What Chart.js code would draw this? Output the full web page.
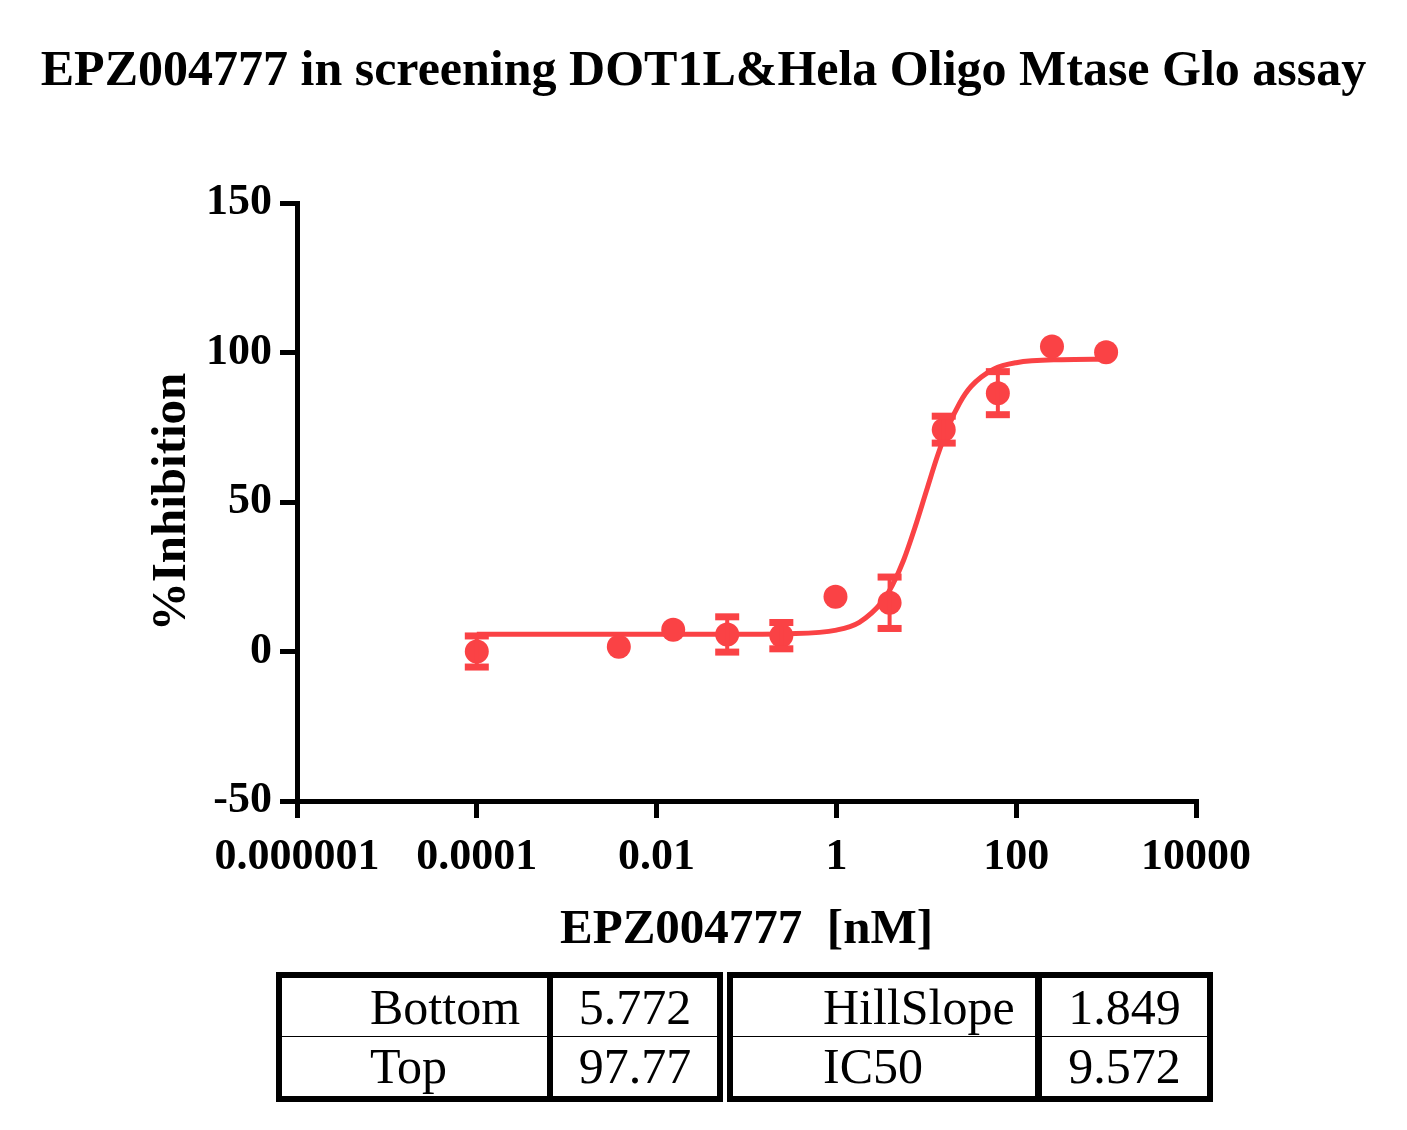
<!DOCTYPE html>
<html><head><meta charset="utf-8">
<script src="https://cdn.jsdelivr.net/npm/chart.js@4/dist/chart.umd.min.js"></script>
<style>
html,body{margin:0;padding:0;background:#fff;}
#wrap{position:relative;width:1407px;height:1130px;overflow:hidden;}
#c{position:absolute;left:0;top:0;}
.tb{position:absolute;border:6px solid #000;box-sizing:border-box;top:972px;height:130px;}
.cell{position:absolute;font-family:"Liberation Serif","Times New Roman",serif;font-size:50px;color:#000;white-space:nowrap;line-height:58px;height:58px;}
.vd{position:absolute;top:0;height:118px;background:#000;}
.hd{position:absolute;left:0;top:58px;height:1px;background:#000;}
</style></head>
<body>
<div id="wrap">
<canvas id="c" width="1407" height="1130"></canvas>
<div class="tb" style="left:276px;width:447px;">
  <div class="vd" style="left:265px;width:6px;"></div>
  <div class="hd" style="width:435px;"></div>
  <div class="cell" style="left:0;top:0;width:265px;padding-left:88px;box-sizing:border-box;">Bottom</div>
  <div class="cell" style="left:271px;top:0;width:164px;text-align:center;">5.772</div>
  <div class="cell" style="left:0;top:59px;width:265px;padding-left:88px;box-sizing:border-box;">Top</div>
  <div class="cell" style="left:271px;top:59px;width:164px;text-align:center;">97.77</div>
</div>
<div class="tb" style="left:727px;width:486px;">
  <div class="vd" style="left:302px;width:7px;"></div>
  <div class="hd" style="width:474px;"></div>
  <div class="cell" style="left:0;top:0;width:302px;padding-left:90px;box-sizing:border-box;">HillSlope</div>
  <div class="cell" style="left:309px;top:0;width:165px;text-align:center;">1.849</div>
  <div class="cell" style="left:0;top:59px;width:302px;padding-left:90px;box-sizing:border-box;">IC50</div>
  <div class="cell" style="left:309px;top:59px;width:165px;text-align:center;">9.572</div>
</div>
</div>
<script>
// ---- data ----
const concentration = [0.0001, 0.0038, 0.0153, 0.061, 0.244, 0.977, 3.906, 15.63, 62.5, 250, 1000];
const inhibition    = [0, 1.6, 7.3, 5.7, 5.3, 18.3, 16.3, 74.2, 86.4, 102.0, 100.1];
const inhibitionErr = [5.2, 0, 0, 5.9, 4.4, 0, 8.6, 4.5, 7.2, 0, 0];
const curveX = [0.0001, 0.001, 0.01, 0.1, 0.3, 1, 1.8, 3.2, 4.2, 5.6, 7.5, 10, 13.3, 17.8, 23.7, 31.6, 56, 100, 316, 1000];
const curveY = [5.77, 5.77, 5.77, 5.79, 5.93, 7.16, 9.77, 16.5, 22.2, 30.6, 41.6, 53.6, 65.4, 75.6, 83.3, 88.7, 94.4, 96.6, 97.6, 97.75];
const xTickValues = [0.000001, 0.0001, 0.01, 1, 100, 10000];
const xTickLabels = ['0.000001', '0.0001', '0.01', '1', '100', '10000'];
const yTickValues = [-50, 0, 50, 100, 150];
const yTickLabels = ['-50', '0', '50', '100', '150'];

const RED = '#FA4245';
const SERIF = '"Liberation Serif","Times New Roman",serif';

const errorBars = {
  id: 'errorBars',
  afterDatasetsDraw(chart) {
    const {ctx, scales: {x, y}} = chart;
    ctx.save();
    ctx.fillStyle = RED;
    concentration.forEach((c, i) => {
      const e = inhibitionErr[i];
      if (!e) return;
      const px = x.getPixelForValue(c);
      const pT = y.getPixelForValue(inhibition[i] + e);
      const pB = y.getPixelForValue(inhibition[i] - e);
      ctx.fillRect(px - 2, pT, 4, pB - pT);
      ctx.fillRect(px - 12, pT - 3.5, 24, 7);
      ctx.fillRect(px - 12, pB - 3.5, 24, 7);
    });
    ctx.restore();
  }
};

new Chart(document.getElementById('c'), {
  type: 'line',
  data: {
    datasets: [
      {
        data: concentration.map((v, i) => ({x: v, y: inhibition[i]})),
        showLine: false,
        pointRadius: 12,
        pointHoverRadius: 12,
        pointBackgroundColor: RED,
        pointBorderWidth: 0,
        borderColor: RED
      },
      {
        data: curveX.map((v, i) => ({x: v, y: curveY[i]})),
        borderColor: RED,
        borderWidth: 5,
        pointRadius: 0,
        cubicInterpolationMode: 'monotone',
        fill: false
      }
    ]
  },
  options: {
    responsive: false,
    animation: false,
    events: [],
    layout: {padding: {top: 0, left: 0, right: 0, bottom: 170}},
    plugins: {
      legend: {display: false},
      tooltip: {enabled: false},
      title: {
        display: true,
        text: 'EPZ004777 in screening DOT1L&Hela Oligo Mtase Glo assay',
        color: '#000',
        font: {family: SERIF, size: 50, weight: 'bold', lineHeight: 1.2},
        padding: {top: 42, bottom: 101}
      }
    },
    scales: {
      x: {
        type: 'logarithmic',
        min: 0.000001,
        max: 10000,
        afterBuildTicks: s => { s.ticks = xTickValues.map(v => ({value: v})); },
        afterFit: s => { s.height = 159; },
        ticks: {
          autoSkip: false,
          maxRotation: 0,
          color: '#000',
          padding: 13,
          font: {family: SERIF, size: 44, weight: 'bold'},
          callback: (v, i) => xTickLabels[i]
        },
        grid: {drawOnChartArea: false, drawTicks: true, tickLength: 17, lineWidth: 5, color: '#000'},
        border: {display: true, width: 5, color: '#000'},
        title: {
          display: true,
          text: 'EPZ004777  [nM]',
          color: '#000',
          font: {family: SERIF, size: 49, weight: 'bold', lineHeight: 1.2},
          padding: {top: 0, bottom: 0}
        }
      },
      y: {
        type: 'linear',
        min: -50,
        max: 150,
        afterBuildTicks: s => { s.ticks = yTickValues.map(v => ({value: v})); },
        afterFit: s => { s.width = 297; },
        ticks: {
          color: '#000',
          padding: 8,
          font: {family: SERIF, size: 44, weight: 'bold'},
          callback: (v, i) => yTickLabels[i]
        },
        grid: {drawOnChartArea: false, drawTicks: true, tickLength: 17, lineWidth: 5, color: '#000'},
        border: {display: true, width: 5, color: '#000'},
        title: {
          display: true,
          text: '%Inhibition',
          color: '#000',
          font: {family: SERIF, size: 49, weight: 'bold', lineHeight: 1.2},
          padding: {top: 143, bottom: 0}
        }
      },
      spacer: {
        type: 'linear',
        position: 'right',
        display: true,
        afterFit: s => { s.width = 211; },
        ticks: {display: false},
        grid: {display: false},
        border: {display: false}
      }
    }
  },
  plugins: [errorBars]
});
</script>
</body></html>
